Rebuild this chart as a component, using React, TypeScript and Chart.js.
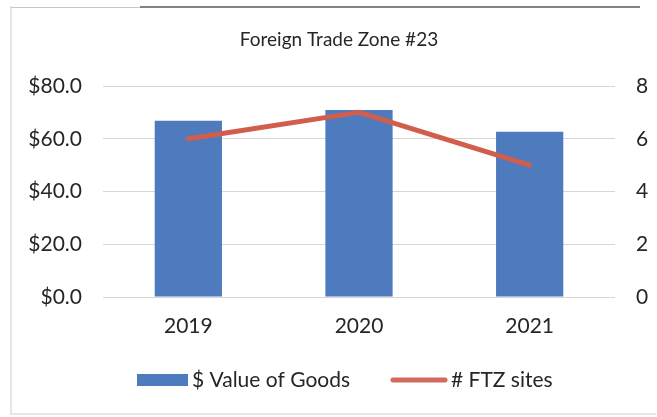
import React, { useEffect, useRef } from "react";
import { Chart, registerables } from "chart.js";

Chart.register(...registerables);

const categories = ["2019", "2020", "2021"];
const goodsValues = [66.8, 70.9, 62.7];
const ftzSites = [6, 7, 5];
const chartTitle = "Foreign Trade Zone #23";
const goodsLabel = "$ Value of Goods";
const sitesLabel = "# FTZ sites";

const BAR_COLOR = "#4e7bbd";
const LINE_COLOR = "#d15d4d";
const LEGEND_LINE_COLOR = "#d06a5e";
const FONT = "Lato, 'Open Sans', sans-serif";

const decorPlugin = {
  id: "decor",
  beforeDraw(chart: any) {
    const ctx = chart.ctx;
    ctx.save();
    ctx.fillStyle = "#ffffff";
    ctx.fillRect(0, 0, chart.width, chart.height);
    // frame (scan edges)
    ctx.strokeStyle = "#e6e6e6";
    ctx.lineWidth = 2;
    ctx.beginPath();
    ctx.moveTo(11, 6);
    ctx.lineTo(11, 414);
    ctx.lineTo(656, 414);
    ctx.stroke();
    ctx.strokeStyle = "#c8c8c8";
    ctx.lineWidth = 1;
    ctx.beginPath();
    ctx.moveTo(11, 7.5);
    ctx.lineTo(140, 7.5);
    ctx.stroke();
    ctx.strokeStyle = "#5a5a5a";
    ctx.lineWidth = 1.5;
    ctx.beginPath();
    ctx.moveTo(140, 7);
    ctx.lineTo(640, 7);
    ctx.stroke();
    ctx.restore();
  },
  afterDraw(chart: any) {
    const ctx = chart.ctx;
    ctx.save();
    // title
    ctx.fillStyle = "#262626";
    ctx.font = `19px ${FONT}`;
    ctx.textAlign = "center";
    ctx.textBaseline = "middle";
    ctx.fillText(chartTitle, 339, 40);
    // legend
    const ds0 = chart.data.datasets[0];
    const ds1 = chart.data.datasets[1];
    ctx.font = `21px ${FONT}`;
    ctx.textAlign = "left";
    ctx.fillStyle = ds0.backgroundColor;
    ctx.fillRect(137, 374, 51, 12);
    ctx.fillStyle = "#262626";
    ctx.fillText(ds0.label, 192, 380);
    ctx.strokeStyle = LEGEND_LINE_COLOR;
    ctx.lineWidth = 5;
    ctx.lineCap = "round";
    ctx.beginPath();
    ctx.moveTo(393, 380);
    ctx.lineTo(445, 380);
    ctx.stroke();
    ctx.fillStyle = "#262626";
    ctx.fillText(ds1.label, 451, 380);
    ctx.restore();
  },
};

export default function App() {
  const canvasRef = useRef<HTMLCanvasElement | null>(null);

  useEffect(() => {
    if (!canvasRef.current) return;
    const chart = new Chart(canvasRef.current, {
      type: "bar",
      data: {
        labels: categories,
        datasets: [
          {
            type: "bar",
            label: goodsLabel,
            data: goodsValues,
            backgroundColor: BAR_COLOR,
            yAxisID: "y",
            barPercentage: 0.394,
            categoryPercentage: 1,
            order: 2,
          },
          {
            type: "line",
            label: sitesLabel,
            data: ftzSites,
            borderColor: LINE_COLOR,
            backgroundColor: LINE_COLOR,
            borderWidth: 5,
            pointRadius: 0,
            borderCapStyle: "round",
            borderJoinStyle: "round",
            tension: 0,
            yAxisID: "y1",
            order: 1,
          },
        ] as any,
      },
      options: {
        responsive: false,
        animation: false,
        layout: { padding: { top: 86, bottom: 70, left: 0, right: 0 } },
        plugins: {
          legend: { display: false },
          title: { display: false },
          tooltip: { enabled: false },
        },
        scales: {
          x: {
            grid: { display: false, drawTicks: false },
            border: { display: false },
            ticks: {
              color: "#262626",
              padding: 17,
              font: { family: FONT, size: 21 },
            },
            afterFit: (s: any) => {
              s.height = 50;
            },
          },
          y: {
            position: "left",
            min: 0,
            max: 80,
            grid: { color: "#d6d6d6", lineWidth: 1, drawTicks: false },
            border: { display: false },
            ticks: {
              stepSize: 20,
              padding: 21,
              color: "#262626",
              font: { family: FONT, size: 21 },
              callback: (v: any) => "$" + Number(v).toFixed(1),
            },
            afterFit: (s: any) => {
              s.width = 103;
            },
          },
          y1: {
            position: "right",
            min: 0,
            max: 8,
            grid: { display: false, drawTicks: false },
            border: { display: false },
            ticks: {
              stepSize: 2,
              padding: 21,
              color: "#262626",
              font: { family: FONT, size: 21 },
            },
            afterFit: (s: any) => {
              s.width = 42;
            },
          },
        },
      } as any,
      plugins: [decorPlugin],
    });
    return () => chart.destroy();
  }, []);

  return (
    <div style={{ position: "fixed", left: 0, top: 0, width: 657, height: 417, background: "#fff" }}>
      <canvas ref={canvasRef} width={657} height={417} style={{ display: "block" }} />
    </div>
  );
}
